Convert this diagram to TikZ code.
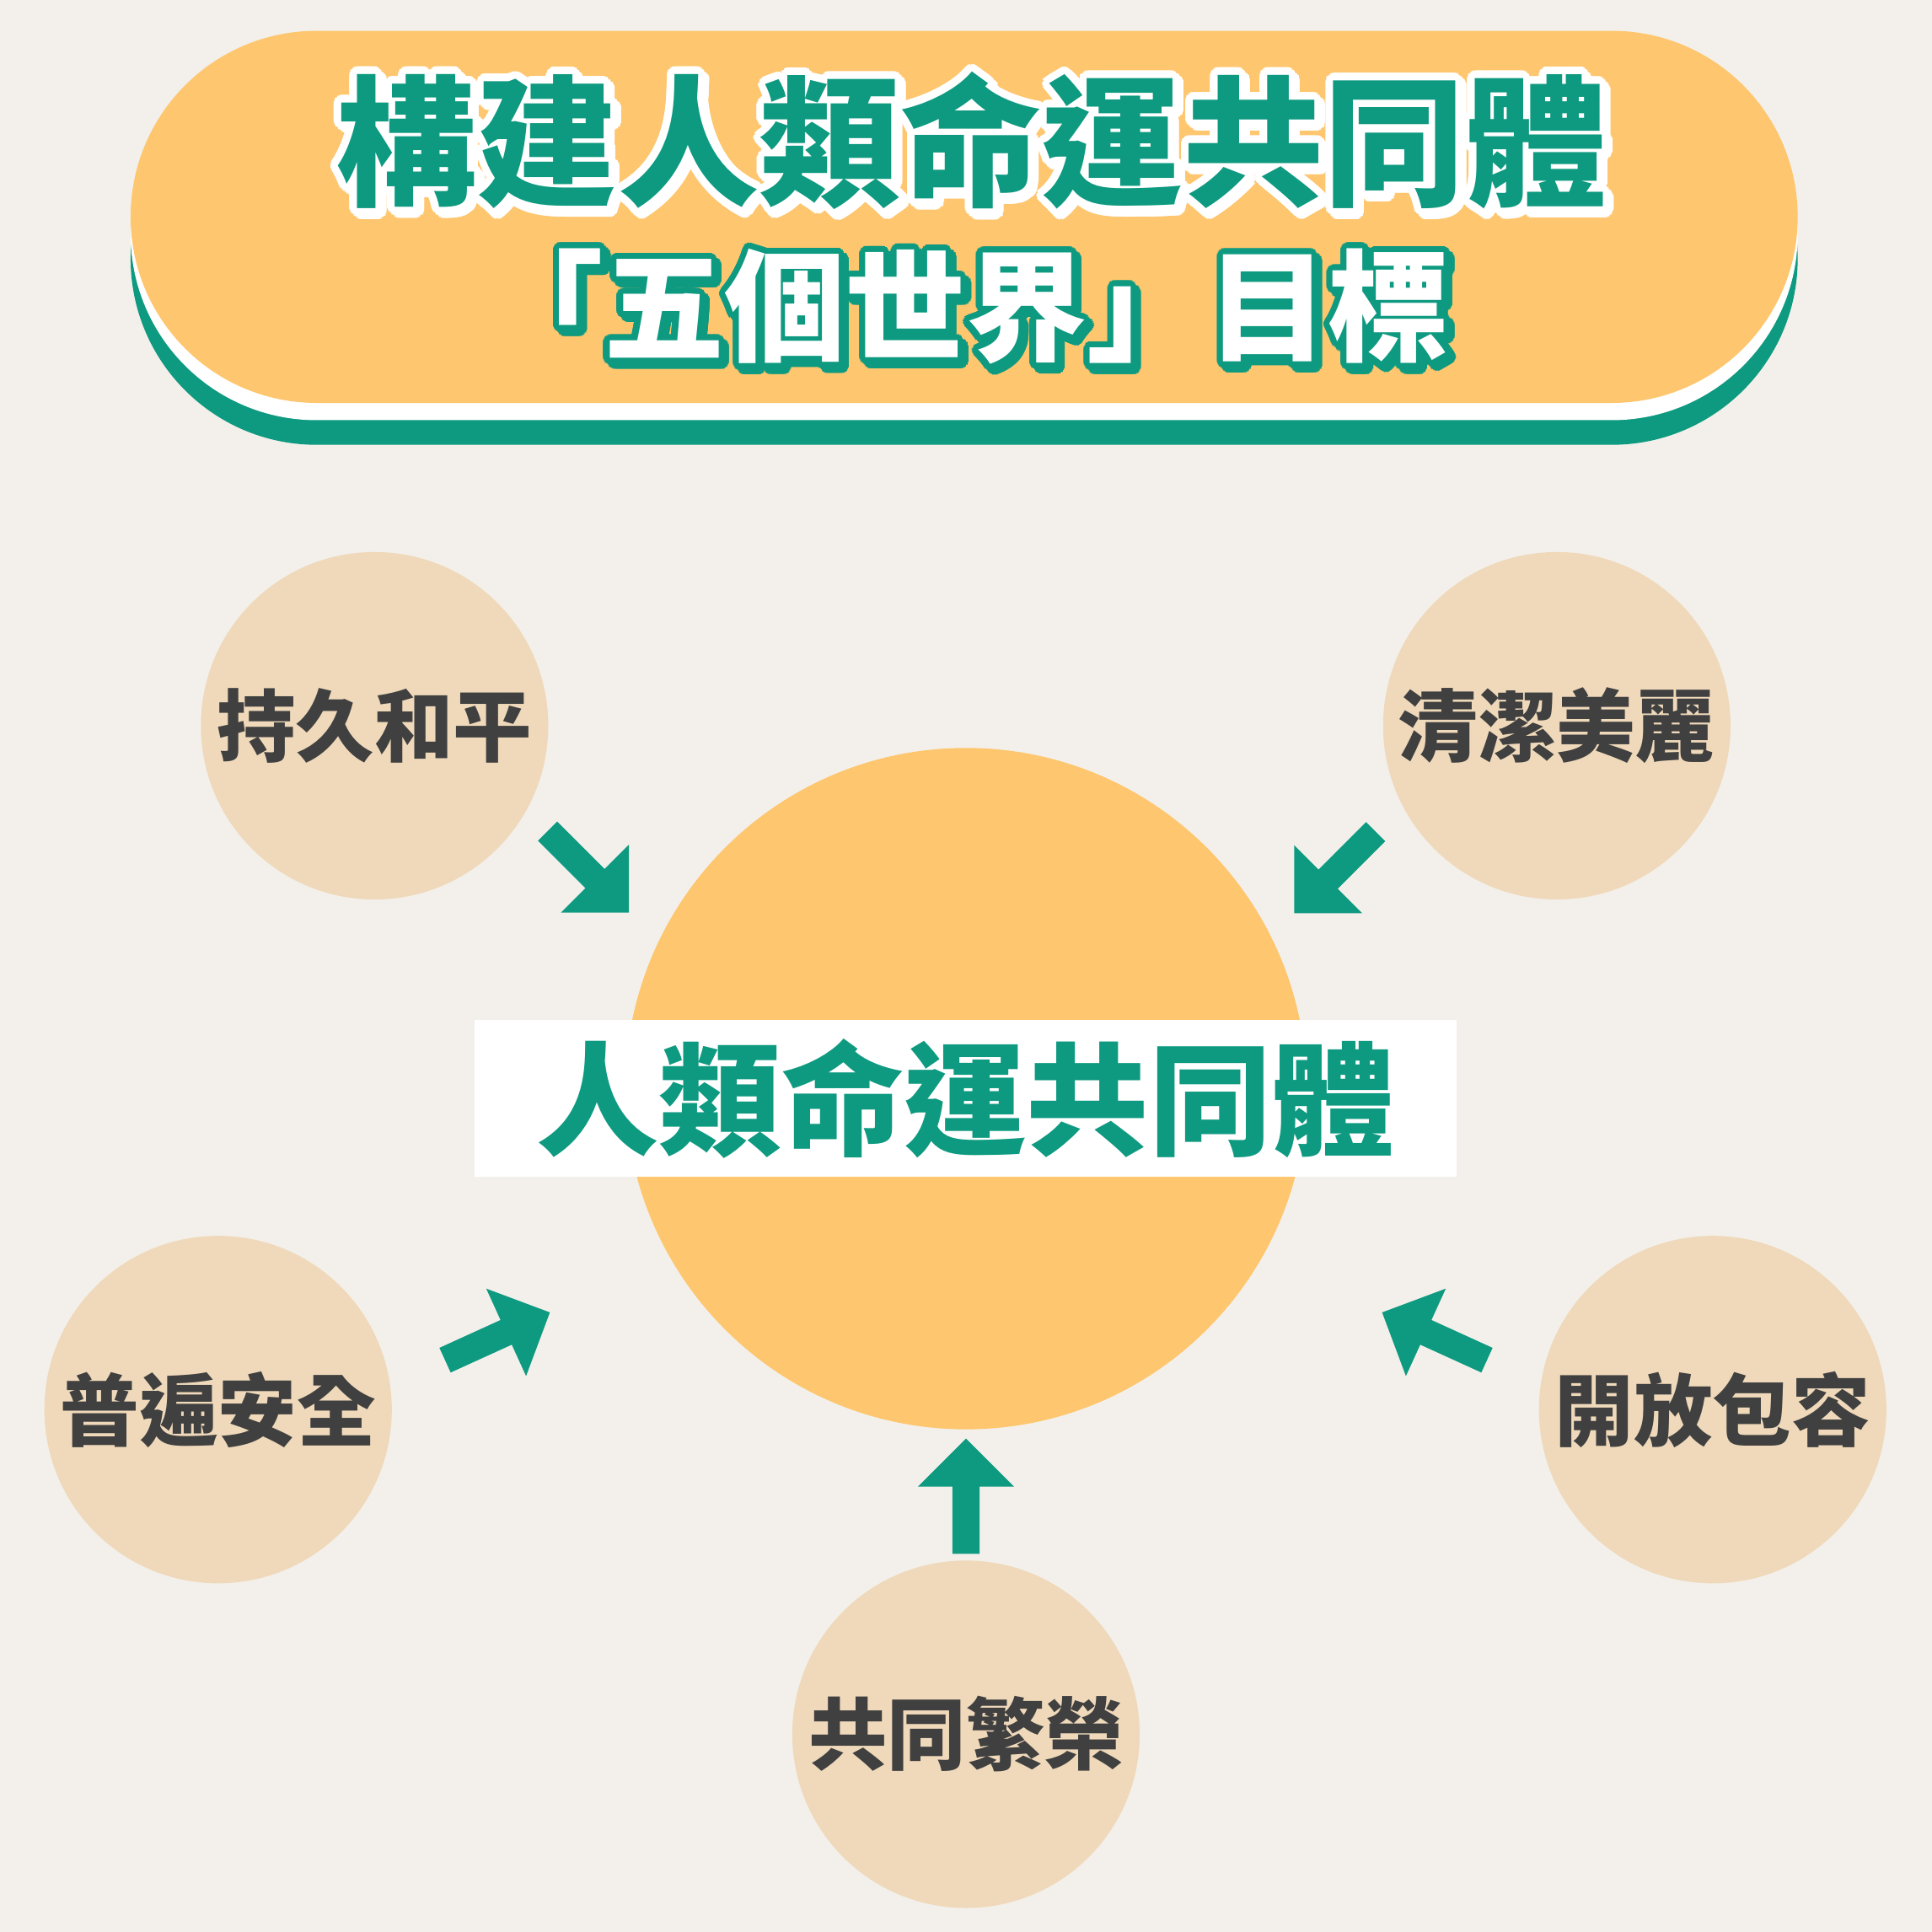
\documentclass[tikz,border=0pt]{standalone}
\usepackage{fontspec}
\newfontfamily\cjk{Noto Sans CJK TC}
\definecolor{bgc}{RGB}{243,240,235}
\definecolor{tealc}{RGB}{14,154,128}
\definecolor{orangec}{RGB}{254,198,110}
\definecolor{beigec}{RGB}{239,217,186}
\definecolor{grayc}{RGB}{64,64,64}
\tikzset{
  tline1/.style={font=\cjk\bfseries\fontsize{32.6}{36}\selectfont, inner sep=0pt},
  tline2/.style={font=\cjk\bfseries\fontsize{27.9}{30}\selectfont, inner sep=0pt},
  goal/.style={circle, fill=beigec, minimum size=28.2mm, inner sep=0pt, text=grayc,
    font=\cjk\bfseries\fontsize{18.2}{20}\selectfont},
  corebox/.style={fill=white, minimum width=79.7mm, minimum height=12.7mm, inner sep=0pt,
    text=tealc, font=\cjk\bfseries\fontsize{28.3}{30}\selectfont},
  blockarrow/.style={fill=tealc}
}
\newcommand\blockarrowpath{(0,-11) -- (54.5,-11) -- (54.5,-39) -- (93.5,0) -- (54.5,39) -- (54.5,11) -- (0,11) -- cycle}
\begin{document}
\begin{tikzpicture}[x=0.1mm,y=-0.1mm]
\fill[bgc] (0,0) rectangle (1568,1568);
\useasboundingbox (0,0) rectangle (1568,1568);
% banner
\fill[tealc, rounded corners=15.1mm] (106,59) rectangle (1459,361);
\fill[white, rounded corners=15.1mm] (106,39) rectangle (1459,341);
\fill[orangec, rounded corners=15.1mm] (106,25) rectangle (1459,327);
% title line 1: white shadow and outline, teal fill
\foreach \a in {0,15,...,345} {
  \node[tline1, text=white, shift={(\a:6)}] at (791,117) {構建人類命運共同體};
  \node[tline1, text=white, shift={(\a:6)}] at (788,114) {構建人類命運共同體};
}
\node[tline1, text=tealc] (title1) at (788,114) {構建人類命運共同體};
% title line 2: teal shadow and outline, white fill
\foreach \a in {0,15,...,345} {
  \node[tline2, text=tealc, shift={(\a:5)}] at (787.5,252.5) {「五個世界」目標};
  \node[tline2, text=tealc, shift={(\a:5)}] at (784,249) {「五個世界」目標};
}
\node[tline2, text=white] (title2) at (784,249) {「五個世界」目標};
% center
\fill[orangec] (784,883.5) circle[radius=276.5];
\node[corebox] (core) at (783.5,891.5) {\raisebox{1.4pt}{人類命運共同體}};
% goals
\node[goal] (peace) at (304,589) {持久和平};
\node[goal] (clean) at (1263.5,589) {清潔美麗};
\node[goal] (secure) at (177,1144) {普遍安全};
\node[goal] (open) at (1390,1144) {開放包容};
\node[goal] (prosper) at (784,1407.5) {共同繁榮};
% arrows
\coordinate (a1) at (444.4,674.5);
\coordinate (a2) at (1116.5,675);
\coordinate (a3) at (361.2,1103.9);
\coordinate (a4) at (1206.8,1103.9);
\coordinate (a5) at (784,1261);
\fill[blockarrow, shift={(a1)}, rotate=-45] \blockarrowpath;
\fill[blockarrow, shift={(a2)}, rotate=-135] \blockarrowpath;
\fill[blockarrow, shift={(a3)}, rotate=24.5] \blockarrowpath;
\fill[blockarrow, shift={(a4)}, rotate=155.5] \blockarrowpath;
\fill[blockarrow, shift={(a5)}, rotate=90] \blockarrowpath;
\end{tikzpicture}
\end{document}
